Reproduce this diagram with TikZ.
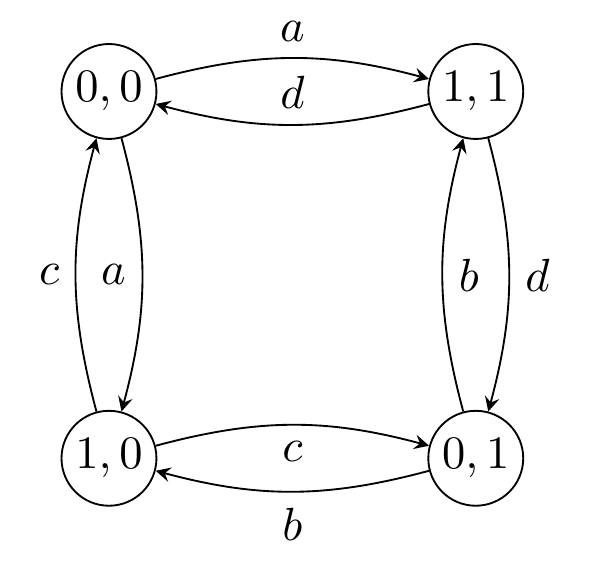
\documentclass[tikz,border=0pt]{standalone}
\usepackage{amsmath}
\usepackage{tikz}
\usetikzlibrary{arrows.meta}

\begin{document}
\begin{tikzpicture}[
  statenode/.style={
    circle, draw, inner sep=0pt, minimum size=20.4pt
  },
  trans/.style={
    ->, >=stealth, bend left=15
  },
]
\useasboundingbox (-0.823,-0.910) rectangle (3.716,3.461);

% --- States ---
\node[statenode] (s00) at (0, 2.77) {$0,0$};
\node[statenode] (s11) at (2.77, 2.77) {$1,1$};
\node[statenode] (s10) at (0, 0) {$1,0$};
\node[statenode] (s01) at (2.77, 0) {$0,1$};

% --- Top ---
\draw[trans] (s00) to node[above]{$a$} (s11);
\draw[trans] (s11) to node[above]{$d$} (s00);

% --- Left ---
\draw[trans] (s00) to node[left]{$a$} (s10);
\draw[trans] (s10) to node[left]{$c$} (s00);

% --- Right ---
\draw[trans] (s11) to node[right]{$d$} (s01);
\draw[trans] (s01) to node[right]{$b$} (s11);

% --- Bottom ---
\draw[trans] (s10) to node[below]{$c$} (s01);
\draw[trans] (s01) to node[below]{$b$} (s10);

\end{tikzpicture}
\end{document}
